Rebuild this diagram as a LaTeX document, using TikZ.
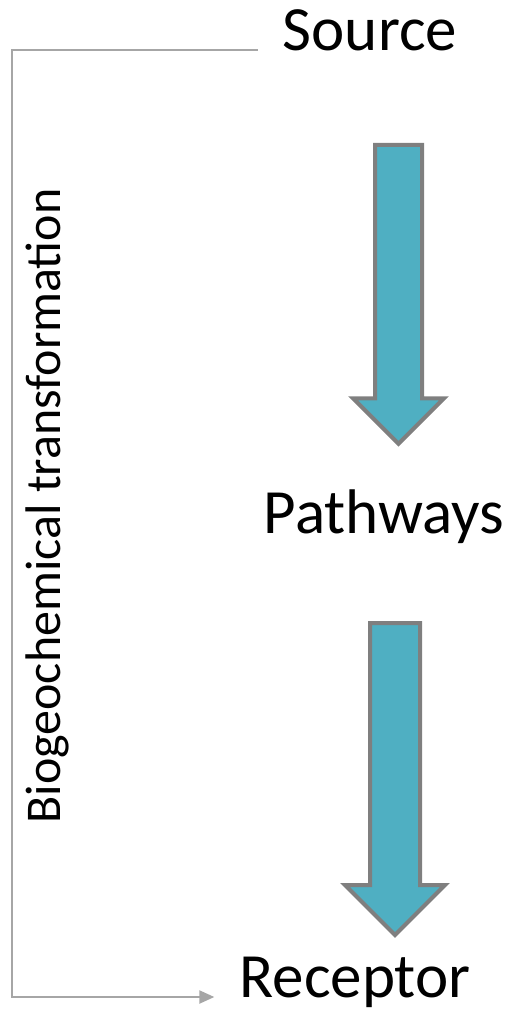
\documentclass[tikz,border=0pt]{standalone}
\usepackage{fontspec}
\setmainfont{Carlito}
\usetikzlibrary{arrows.meta,shapes.arrows}
\definecolor{flowfill}{HTML}{4FAFC2}
\definecolor{flowedge}{HTML}{7F7F7F}
\definecolor{railgray}{HTML}{A6A6A6}
\begin{document}
\begin{tikzpicture}[x=1pt,y=-1pt,
  stage/.style={inner sep=0pt,anchor=base,font=\fontsize{63}{75}\selectfont},
  flow/.style={single arrow,rotate=-90,draw=flowedge,line width=4pt,fill=flowfill,inner xsep=0pt,single arrow tip angle=90},
  rail/.style={draw=railgray,line width=2.2pt,-{Triangle[length=15pt,width=13pt]}}]
\useasboundingbox (0,0) rectangle (510,1010);
\node[stage] (source) at (370,50) {Source};
\node[stage] (pathways) at (384,533) {Pathways};
\node[stage] (receptor) at (355,997) {Receptor};
\node[flow,minimum height=299pt,inner ysep=21.5pt,single arrow head extend=22pt] (flowa) at (398.5,282.5) {};
\node[flow,minimum height=312pt,inner ysep=23pt,single arrow head extend=25pt] (flowb) at (395,766.5) {};
\coordinate (edge) at (12,0);
\draw[rail] ([xshift=-25pt]source.base west) -- (edge |- source.base) -- (edge |- receptor.base) -- ([xshift=-25pt]receptor.base west);
\node[inner sep=0pt,anchor=base,rotate=90,font=\fontsize{50}{60}\selectfont] (transform) at (60,506) {Biogeochemical transformation};
\end{tikzpicture}
\end{document}
